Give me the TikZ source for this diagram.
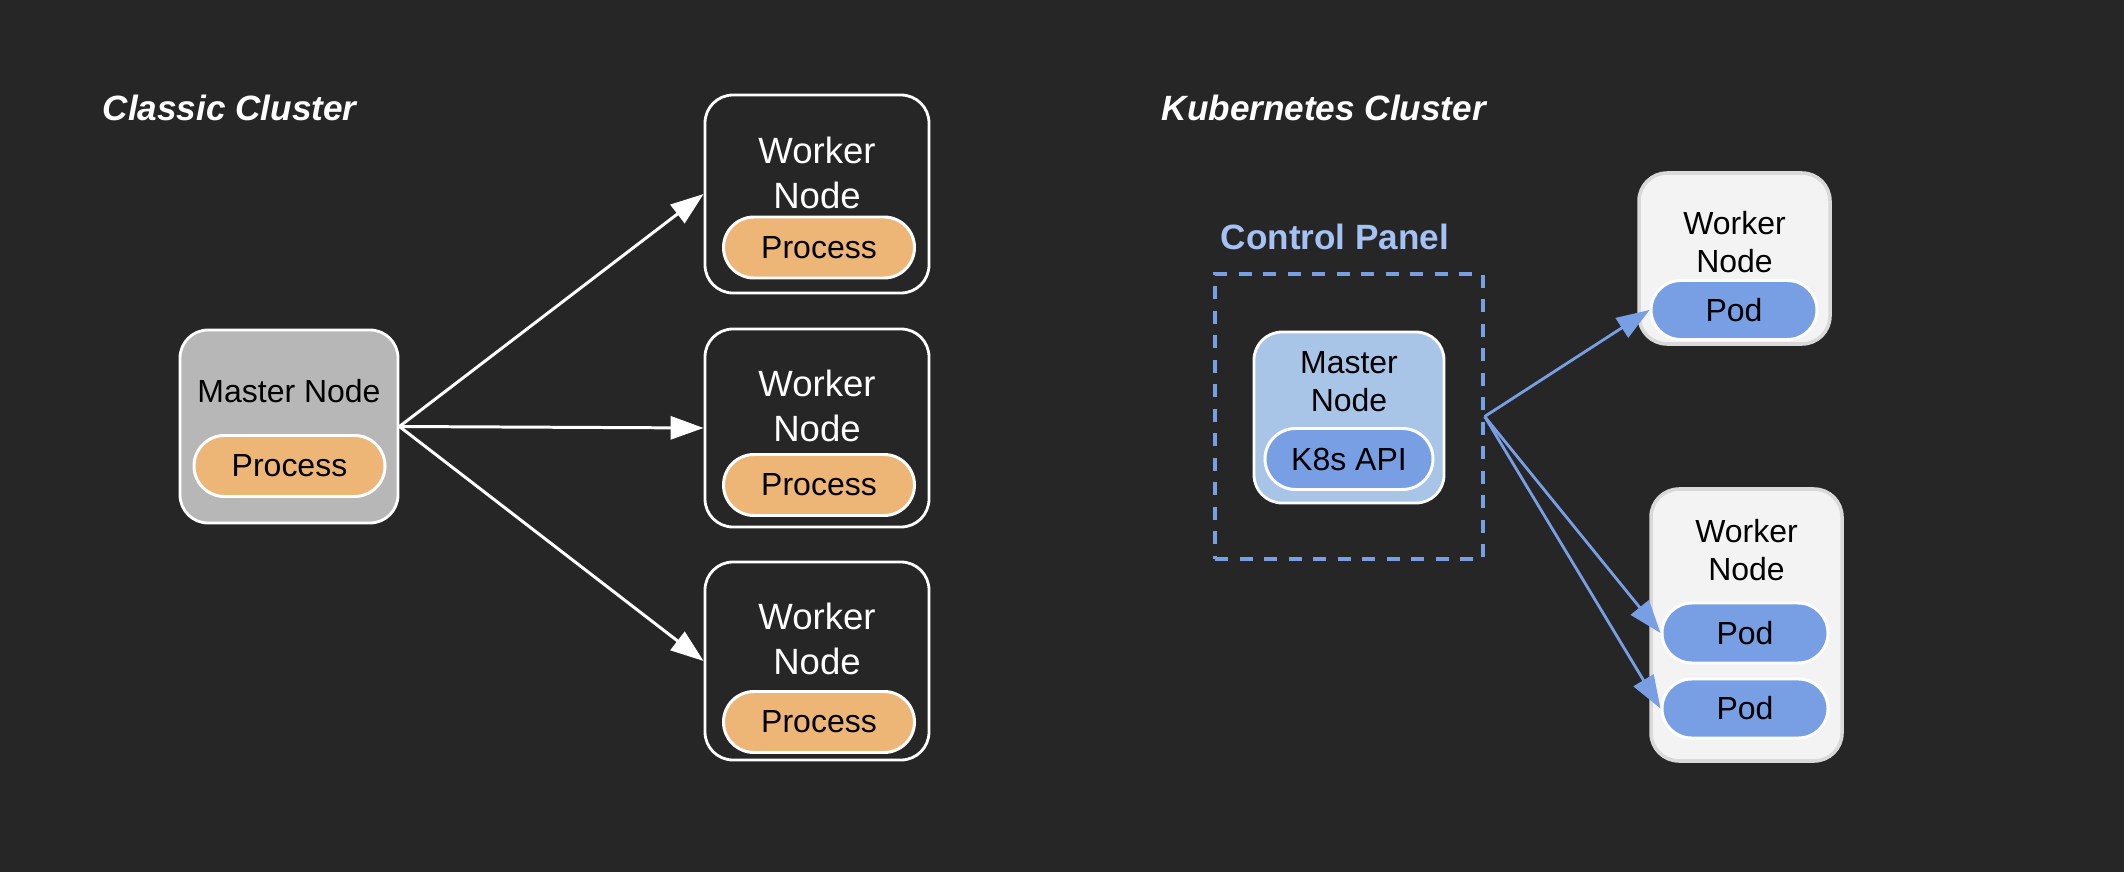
\documentclass[tikz,border=0pt]{standalone}
\usepackage{fontspec}
\setmainfont{Liberation Sans}
\usetikzlibrary{shapes.misc}
\usetikzlibrary{arrows.meta}

\definecolor{bgdark}{HTML}{262626}
\definecolor{mastergray}{HTML}{B7B7B7}
\definecolor{procorange}{HTML}{EDB677}
\definecolor{masterblue}{HTML}{A8C5E8}
\definecolor{podblue}{HTML}{789EE3}
\definecolor{panelblue}{HTML}{A4C2F4}
\definecolor{workerwhite}{HTML}{F3F3F3}
\definecolor{workerrim}{HTML}{D9D9D9}

\tikzset{
	box/.style={draw, rounded corners=0.28cm, line width=0.8pt, inner sep=0},
	pill/.style={rounded rectangle, draw=white, line width=0.85pt, inner sep=0, minimum height=0.61cm, minimum width=1.91cm, font=\fontsize{9.1}{10.8}\selectfont},
	txt/.style={inner sep=0, align=center, font=\fontsize{9.1}{10.7}\selectfont},
	title/.style={inner sep=0, white, font=\fontsize{10}{12}\selectfont\bfseries\itshape},
	wharrow/.style={white, line width=0.85pt, -{Triangle[length=3.3mm,width=2.3mm]}},
	bluearrow/.style={podblue, line width=0.8pt, -{Triangle[length=3.3mm,width=2.3mm]}},
}

\begin{document}
\begin{tikzpicture}
	\fill[bgdark] (0,0) rectangle (21.24,-8.72);
	\useasboundingbox (0,0) rectangle (21.24,-8.72);

%% Titles
	\draw (1.02,-1.08) node[title, anchor=west] (classic){Classic Cluster};
	\draw (11.61,-1.08) node[title, anchor=west] (kube){Kubernetes Cluster};

%% Classic master
	\draw (2.89,-4.265) node[box, fill=mastergray, draw=white, minimum width=2.18cm, minimum height=1.93cm] (master){};
	\draw[black] (2.89,-3.91) node[txt] (mastertxt){Master Node};
	\draw (2.895,-4.66) node[pill, fill=procorange] (masterproc){Process};

%% Classic workers
	\draw (8.17,-1.94) node[box, fill=bgdark, draw=white, minimum width=2.24cm, minimum height=1.98cm] (worker1){};
	\draw (8.17,-1.725) node[txt, white, font=\fontsize{10.4}{12.8}\selectfont] (worker1txt){Worker\\Node};
	\draw (8.19,-2.475) node[pill, fill=procorange] (proc1){Process};

	\draw (8.17,-4.28) node[box, fill=bgdark, draw=white, minimum width=2.24cm, minimum height=1.98cm] (worker2){};
	\draw (8.17,-4.055) node[txt, white, font=\fontsize{10.4}{12.8}\selectfont] (worker2txt){Worker\\Node};
	\draw (8.19,-4.85) node[pill, fill=procorange] (proc2){Process};

	\draw (8.17,-6.61) node[box, fill=bgdark, draw=white, minimum width=2.24cm, minimum height=1.98cm] (worker3){};
	\draw (8.17,-6.385) node[txt, white, font=\fontsize{10.4}{12.8}\selectfont] (worker3txt){Worker\\Node};
	\draw (8.19,-7.22) node[pill, fill=procorange] (proc3){Process};

%% Control panel
	\draw (12.20,-2.37) node[inner sep=0, anchor=west, panelblue, font=\fontsize{10}{12}\selectfont\bfseries] (paneltxt){Control Panel};
	\draw (13.49,-4.165) node[draw=podblue, line width=0.95pt, dash pattern=on 0.13cm off 0.115cm, minimum width=2.68cm, minimum height=2.85cm] (panel){};
	\draw (13.49,-4.175) node[box, fill=masterblue, draw=white, minimum width=1.90cm, minimum height=1.71cm] (k8smaster){};
	\draw[black] (13.49,-3.815) node[txt] (k8smastertxt){Master\\Node};
	\draw (13.49,-4.59) node[pill, fill=podblue, minimum width=1.68cm] (api){K8s API};

%% Kubernetes workers
	\draw (17.345,-2.585) node[box, fill=workerwhite, draw=workerrim, line width=1pt, minimum width=1.91cm, minimum height=1.71cm] (kworker1){};
	\draw[black] (17.345,-2.42) node[txt] (kworker1txt){Worker\\Node};
	\draw (17.34,-3.10) node[pill, fill=podblue, minimum width=1.66cm, minimum height=0.59cm] (pod1){Pod};

	\draw (17.465,-6.25) node[box, fill=workerwhite, draw=workerrim, line width=1pt, minimum width=1.91cm, minimum height=2.72cm] (kworker2){};
	\draw[black] (17.465,-5.50) node[txt] (kworker2txt){Worker\\Node};
	\draw (17.45,-6.33) node[pill, fill=podblue, minimum width=1.66cm, minimum height=0.60cm] (pod2){Pod};
	\draw (17.45,-7.085) node[pill, fill=podblue, minimum width=1.66cm, minimum height=0.59cm] (pod3){Pod};

	% Lines
	\draw[wharrow] (master.east) -- (worker1.west);
	\draw[wharrow] (master.east) -- (worker2.west);
	\draw[wharrow] (master.east) -- (worker3.west);
	\draw[bluearrow] (panel.east) -- (pod1.west);
	\draw[bluearrow] (panel.east) -- (pod2.west);
	\draw[bluearrow] (panel.east) -- (pod3.west);
\end{tikzpicture}
\end{document}
